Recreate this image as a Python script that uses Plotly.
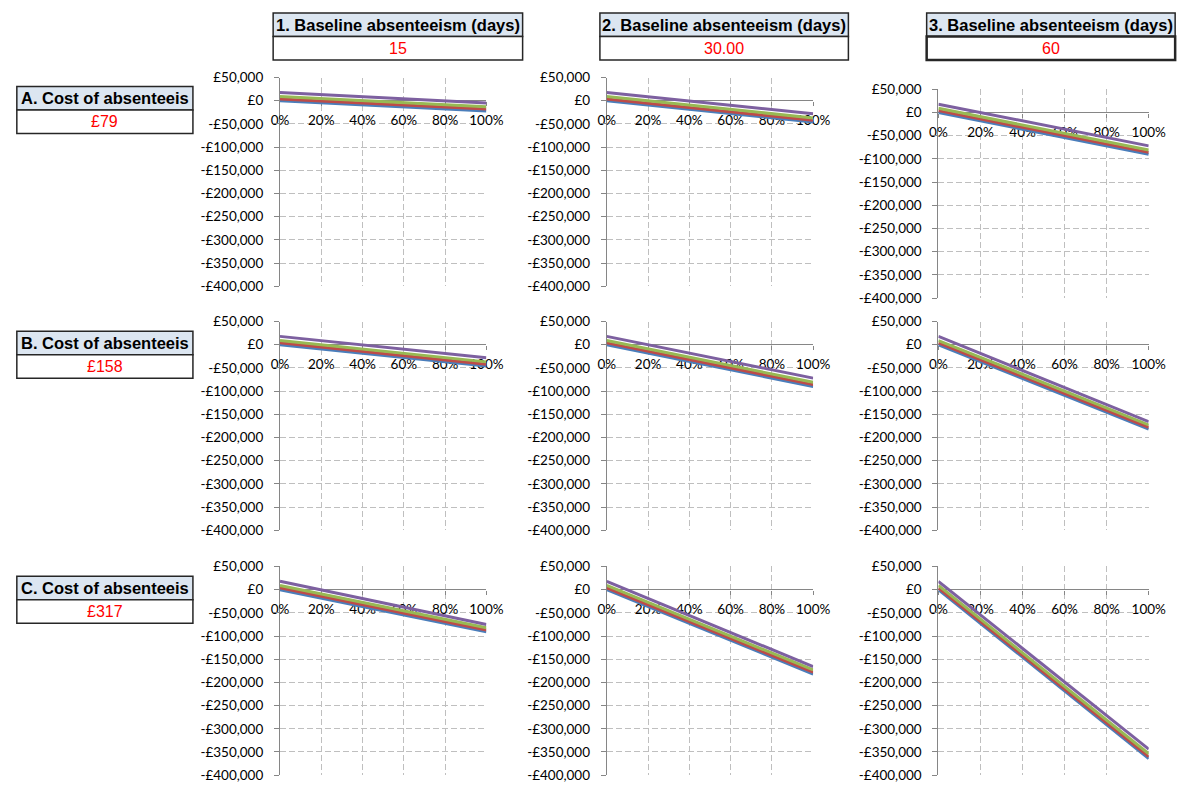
import plotly.graph_objects as go

W, H = 1199, 791

# ---- data -------------------------------------------------------------
shares = [0, 20, 40, 60, 80, 100]
share_labels = ["0%", "20%", "40%", "60%", "80%", "100%"]

y_ticks = [50000, 0, -50000, -100000, -150000, -200000, -250000, -300000, -350000, -400000]
y_tick_labels = ["£50,000", "£0", "-£50,000", "-£100,000", "-£150,000", "-£200,000",
                 "-£250,000", "-£300,000", "-£350,000", "-£400,000"]

column_titles = ["1. Baseline absenteeism (days)", "2. Baseline absenteeism (days)",
                 "3. Baseline absenteeism (days)"]
baseline_days = ["15", "30.00", "60"]
row_titles = ["A. Cost of absenteeis", "B. Cost of absenteeis", "C. Cost of absenteeis"]
daily_costs = ["£79", "£158", "£317"]

# Row A (£79)
a1_s1 = [0, -4400, -8800, -13200, -17600, -22000]
a1_s2 = [4000, -400, -4800, -9200, -13600, -18000]
a1_s3 = [9000, 4600, 200, -4200, -8600, -13000]
a1_s4 = [18000, 13400, 8800, 4200, -400, -5000]

a2_s1 = [0, -9200, -18400, -27600, -36800, -46000]
a2_s2 = [4000, -5200, -14400, -23600, -32800, -42000]
a2_s3 = [9000, -200, -9400, -18600, -27800, -37000]
a2_s4 = [18000, 8800, -400, -9600, -18800, -28000]

a3_s1 = [0, -18000, -36000, -54000, -72000, -90000]
a3_s2 = [4000, -14000, -32000, -50000, -68000, -86000]
a3_s3 = [9000, -9000, -27000, -45000, -63000, -81000]
a3_s4 = [18000, 0, -18000, -36000, -54000, -72000]

# Row B (£158)
b1_s1 = [0, -9200, -18400, -27600, -36800, -46000]
b1_s2 = [4000, -5200, -14400, -23600, -32800, -42000]
b1_s3 = [9000, -200, -9400, -18600, -27800, -37000]
b1_s4 = [18000, 8800, -400, -9600, -18800, -28000]

b2_s1 = [0, -18000, -36000, -54000, -72000, -90000]
b2_s2 = [4000, -14000, -32000, -50000, -68000, -86000]
b2_s3 = [9000, -9000, -27000, -45000, -63000, -81000]
b2_s4 = [18000, 0, -18000, -36000, -54000, -72000]

b3_s1 = [0, -36400, -72800, -109200, -145600, -182000]
b3_s2 = [4000, -32400, -68800, -105200, -141600, -178000]
b3_s3 = [9000, -27400, -63800, -100200, -136600, -173000]
b3_s4 = [18000, -18800, -55600, -92400, -129200, -166000]

# Row C (£317)
c1_s1 = [0, -18200, -36400, -54600, -72800, -91000]
c1_s2 = [4000, -14200, -32400, -50600, -68800, -87000]
c1_s3 = [9000, -9200, -27400, -45600, -63800, -82000]
c1_s4 = [18000, -600, -19200, -37800, -56400, -75000]

c2_s1 = [0, -36400, -72800, -109200, -145600, -182000]
c2_s2 = [4000, -32400, -68800, -105200, -141600, -178000]
c2_s3 = [9000, -27400, -63800, -100200, -136600, -173000]
c2_s4 = [18000, -18800, -55600, -92400, -129200, -166000]

c3_s1 = [0, -72800, -145600, -218400, -291200, -364000]
c3_s2 = [4000, -68800, -141600, -214400, -287200, -360000]
c3_s3 = [9000, -63600, -136200, -208800, -281400, -354000]
c3_s4 = [18000, -54400, -126800, -199200, -271600, -344000]

panels = [
    [[a1_s1, a1_s2, a1_s3, a1_s4], [a2_s1, a2_s2, a2_s3, a2_s4], [a3_s1, a3_s2, a3_s3, a3_s4]],
    [[b1_s1, b1_s2, b1_s3, b1_s4], [b2_s1, b2_s2, b2_s3, b2_s4], [b3_s1, b3_s2, b3_s3, b3_s4]],
    [[c1_s1, c1_s2, c1_s3, c1_s4], [c2_s1, c2_s2, c2_s3, c2_s4], [c3_s1, c3_s2, c3_s3, c3_s4]],
]

# ---- styling ----------------------------------------------------------
series_colors = ["#4A7EBB", "#BE4B48", "#98B954", "#7D60A0"]
axis_color = "#868686"
grid_color = "#BFBFBF"
tick_font = dict(family="Lato, Calibri, sans-serif", size=13.5, color="#000000")
head_font = dict(family="Liberation Sans, Arial, sans-serif", size=16.5, color="#000000")
value_font = dict(family="Liberation Sans, Arial, sans-serif", size=16, color="#FF0000")
Y_MIN, Y_MAX = -400000, 50000


def px(x):
    return x / W


def py(y):
    return 1 - y / H


# plot-area pixel boxes
col_x = [(277, 488), (611, 822), (950, 1165)]
row_y = [(71, 284), (320, 533), (570, 783)]
row1_col3_y = (83, 296)

fig = go.Figure()
layout_axes = {}

for r in range(3):
    for c in range(3):
        n = r * 3 + c + 1
        suffix = "" if n == 1 else str(n)
        x0, x1 = col_x[c]
        top, bottom = row1_col3_y if (r == 0 and c == 2) else row_y[r]
        zero_px = top + (Y_MAX - 0) / (Y_MAX - Y_MIN) * (bottom - top)

        for s, vals in enumerate(panels[r][c]):
            fig.add_trace(go.Scatter(
                x=shares, y=vals, mode="lines",
                line=dict(color=series_colors[s], width=3),
                xaxis="x" + suffix, yaxis="y" + suffix,
                hoverinfo="skip", showlegend=False,
            ))

        # category axis sits on the £0 line
        layout_axes["xaxis" + suffix] = dict(
            domain=[px(x0), px(x1)], range=[0, 100],
            anchor="free", position=py(zero_px),
            tickmode="array", tickvals=shares, ticktext=share_labels,
            showgrid=True, gridcolor=grid_color, griddash="6px,3px", gridwidth=1,
            showline=False,
            ticks="outside", ticklen=4, tickcolor=axis_color,
            tickfont=tick_font, zeroline=False, layer="below traces",
            ticklabelstandoff=3, fixedrange=True,
        )
        layout_axes["yaxis" + suffix] = dict(
            domain=[py(bottom), py(top)], range=[Y_MIN, Y_MAX],
            anchor="x" + suffix,
            tickmode="array", tickvals=y_ticks, ticktext=y_tick_labels,
            showgrid=True, gridcolor=grid_color, griddash="6px,3px", gridwidth=1,
            showline=True, linecolor=axis_color, linewidth=1,
            ticks="outside", ticklen=5, tickcolor=axis_color,
            tickfont=tick_font, layer="below traces",
            zeroline=True, zerolinecolor=axis_color, zerolinewidth=1,
            ticklabelstandoff=8, fixedrange=True,
        )

shapes = []
annotations = []

# column header cells
col_box_x = [(270, 525), (604, 858), (938, 1192)]
for c, (bx0, bx1) in enumerate(col_box_x):
    shapes.append(dict(type="rect", xref="paper", yref="paper",
                       x0=px(bx0), x1=px(bx1), y0=py(29), y1=py(5),
                       fillcolor="#DCE6F1", line=dict(color="#262626", width=1.5)))
    shapes.append(dict(type="rect", xref="paper", yref="paper",
                       x0=px(bx0), x1=px(bx1), y0=py(53), y1=py(29),
                       fillcolor="#FFFFFF",
                       line=dict(color="#262626", width=2.5 if c == 2 else 1.5)))
    annotations.append(dict(xref="paper", yref="paper", x=px((bx0 + bx1) / 2), y=py(17),
                            text="<b>" + column_titles[c] + "</b>", showarrow=False,
                            font=head_font, xanchor="center", yanchor="middle"))
    annotations.append(dict(xref="paper", yref="paper", x=px((bx0 + bx1) / 2), y=py(41),
                            text=baseline_days[c], showarrow=False,
                            font=value_font, xanchor="center", yanchor="middle"))

# row header cells
row_box_y = [80, 330, 580]
for r, by in enumerate(row_box_y):
    shapes.append(dict(type="rect", xref="paper", yref="paper",
                       x0=px(8), x1=px(188), y0=py(by + 24), y1=py(by),
                       fillcolor="#DCE6F1", line=dict(color="#262626", width=1.5)))
    shapes.append(dict(type="rect", xref="paper", yref="paper",
                       x0=px(8), x1=px(188), y0=py(by + 48), y1=py(by + 24),
                       fillcolor="#FFFFFF", line=dict(color="#262626", width=1.5)))
    annotations.append(dict(xref="paper", yref="paper", x=px(10), y=py(by + 12),
                            text="<b>" + row_titles[r] + "</b>", showarrow=False,
                            font=head_font, xanchor="left", yanchor="middle"))
    annotations.append(dict(xref="paper", yref="paper", x=px(98), y=py(by + 36),
                            text=daily_costs[r], showarrow=False,
                            font=value_font, xanchor="center", yanchor="middle"))

fig.update_layout(
    width=W, height=H, autosize=False,
    margin=dict(l=0, r=0, t=0, b=0),
    paper_bgcolor="#FFFFFF", plot_bgcolor="#FFFFFF",
    showlegend=False, shapes=shapes, annotations=annotations,
    **layout_axes,
)

fig.write_html("out.html")
